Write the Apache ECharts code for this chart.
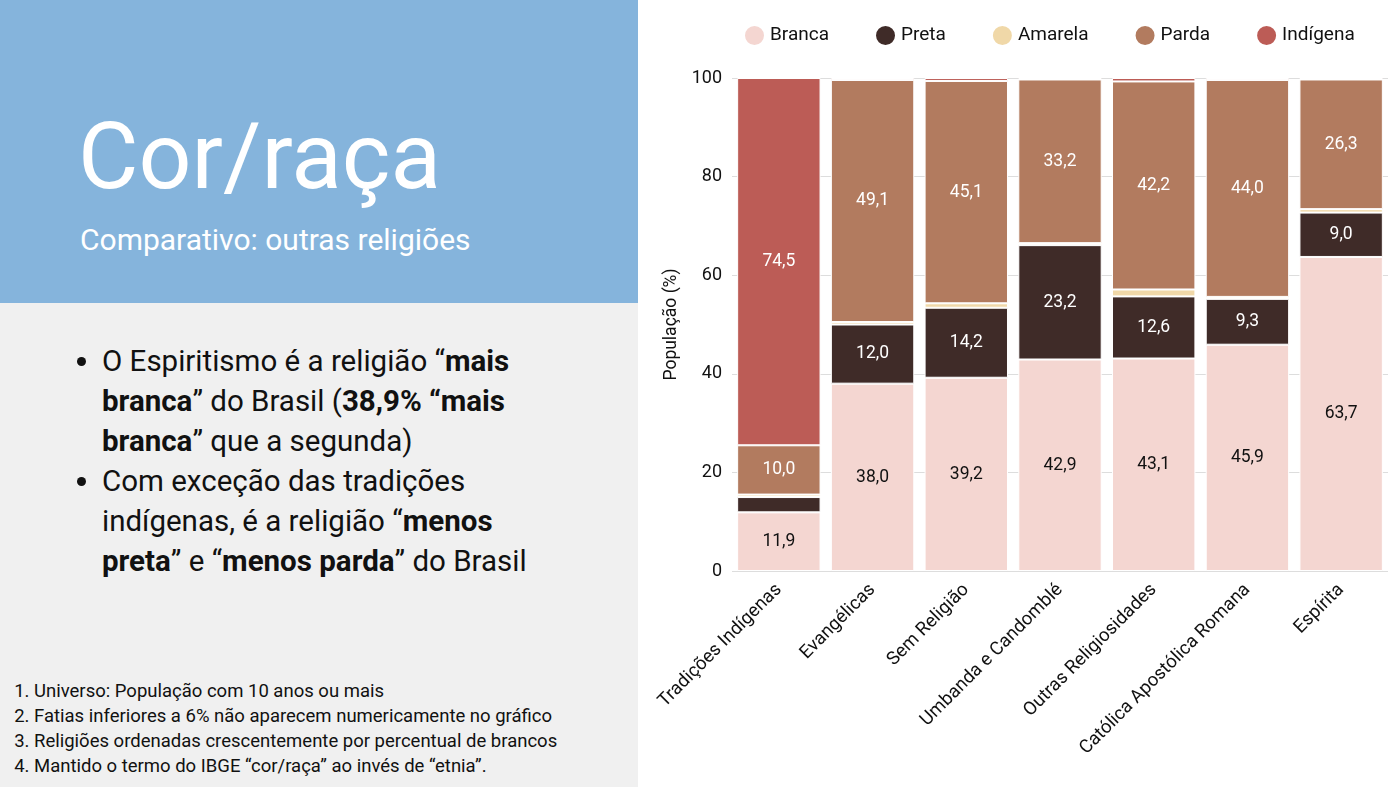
<!DOCTYPE html>
<html>
<head>
<meta charset="utf-8">
<script src="https://cdn.jsdelivr.net/npm/echarts@6/dist/echarts.min.js"></script>
<style>
body{margin:0;width:1400px;height:787px;overflow:hidden;background:#fff;font-family:Roboto,"Noto Sans",sans-serif}
#topo{position:absolute;left:0;top:0;width:638px;height:303px;background:#85b4dc;color:#fff}
#topo h1{position:absolute;left:78px;top:107px;margin:0;font-weight:400;font-size:93px;line-height:100px}
#topo h2{position:absolute;left:80px;top:222px;margin:0;font-weight:400;font-size:30px;line-height:36px}
#baixo{position:absolute;left:0;top:303px;width:638px;height:484px;background:#f0f0f0;color:#111}
#baixo ul{position:absolute;left:72px;top:38px;margin:0;padding-left:30px;font-size:29.5px;line-height:40px;width:460px}
#baixo ol{position:absolute;left:14px;top:376px;margin:0;padding-left:20px;font-size:18.5px;line-height:25px}
#grafico{position:absolute;left:640px;top:0;width:760px;height:787px}
</style>
</head>
<body>
<div id="topo"><h1>Cor/raça</h1><h2>Comparativo: outras religiões</h2></div>
<div id="baixo">
<ul>
<li>O Espiritismo é a religião “<b>mais branca</b>” do Brasil (<b>38,9% “mais branca</b>” que a segunda)</li>
<li>Com exceção das tradições indígenas, é a religião “<b>menos preta</b>” e “<b>menos parda</b>” do Brasil</li>
</ul>
<ol>
<li>Universo: População com 10 anos ou mais</li>
<li>Fatias inferiores a 6% não aparecem numericamente no gráfico</li>
<li>Religiões ordenadas crescentemente por percentual de brancos</li>
<li>Mantido o termo do IBGE “cor/raça” ao invés de “etnia”.</li>
</ol>
</div>
<div id="grafico"></div>
<script>
var religioes=["Tradições Indígenas","Evangélicas","Sem Religião","Umbanda e Candomblé","Outras Religiosidades","Católica Apostólica Romana","Espírita"]
var branca=[11.9,38.0,39.2,42.9,43.1,45.9,63.7]
var preta=[3.1,12.0,14.2,23.2,12.6,9.3,9.0]
var amarela=[0.5,0.5,0.9,0.4,1.4,0.4,0.7]
var parda=[10.0,49.1,45.1,33.2,42.2,44.0,26.3]
var indigena=[74.5,0.4,0.6,0.3,0.7,0.4,0.3]
var yTicks=[0,20,40,60,80,100]

var nomes=["Branca","Preta","Amarela","Parda","Indígena"]
var cores=["#f4d6d1","#3f2b28","#f0d8a8","#b27b5f","#bc5c56"]
var corTexto=["#111","#fff","#111","#fff","#fff"]
var valores=[branca,preta,amarela,parda,indigena]

var mychart=echarts.init(document.getElementById('grafico'));
var series=[]
for(var i=0;i<nomes.length;i++){
	series.push({
		name:nomes[i],
		type:'bar',
		stack:'total',
		barCategoryGap:'11%',
		itemStyle:{borderColor:'#fff',borderWidth:1},
		label:{
			show:true,
			color:corTexto[i],
			fontSize:17.5,
			fontFamily:'Roboto',
			// fatias abaixo de 6% ficam sem rótulo
			formatter:function(p){return p.value>=6?p.value.toFixed(1).replace('.',','):''}
		},
		data:valores[i]
	})
}
var option={
	color:cores,
	textStyle:{fontFamily:'Roboto'},
	legend:{
		top:19,
		left:98,
		icon:'circle',
		itemWidth:21,
		itemHeight:21,
		itemGap:45,
		textStyle:{fontSize:19,color:'#111'},
		data:nomes
	},
	grid:{left:92,right:12,top:78,bottom:216},
	xAxis:{
		type:'category',
		data:religioes,
		axisLine:{show:false},
		axisTick:{show:false},
		axisLabel:{rotate:45,fontSize:18.5,color:'#111',interval:0,margin:16}
	},
	yAxis:{
		type:'value',
		min:yTicks[0],
		max:yTicks[yTicks.length-1],
		interval:20,
		name:'População (%)',
		nameLocation:'middle',
		nameGap:40,
		nameTextStyle:{fontSize:17.5,color:'#111'},
		axisLabel:{fontSize:18,color:'#111',margin:10},
		splitLine:{lineStyle:{color:'#dddddd'}}
	},
	series:series
};
mychart.setOption(option);
</script>
</body>
</html>
